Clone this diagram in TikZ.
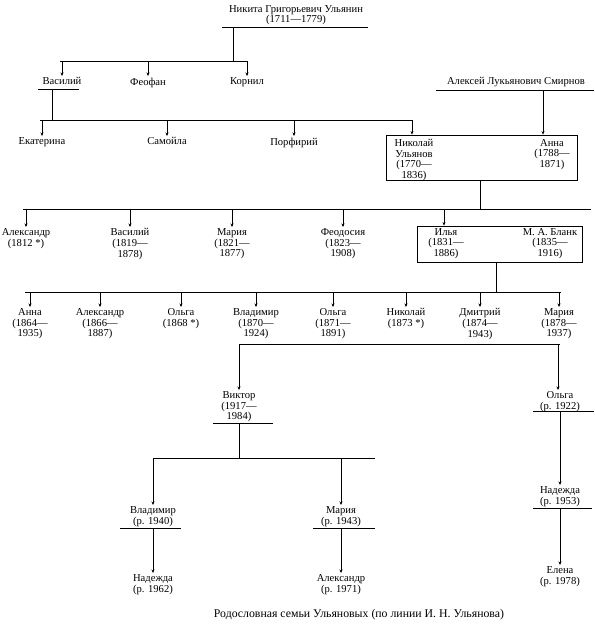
\documentclass[tikz,border=0pt]{standalone}
\usepackage{fontspec}
\setmainfont{Liberation Serif}
\usetikzlibrary{arrows.meta}
\begin{document}
\begin{tikzpicture}[x=1pt,y=-1pt,
  person/.style={align=center,inner sep=0pt,font=\fontsize{10.6}{10.6}\selectfont},
  personT/.style={person,anchor=north,yshift=-2.5pt},
  inbox/.style={person,anchor=north,yshift=-1pt},
  bar/.style={line width=0.95pt},
  vline/.style={line width=0.75pt},
  arr/.style={line width=0.5pt,-{Stealth[length=3.5pt,width=3pt]},shorten >=1.5pt},
  famox/.style={draw,line width=0.75pt,inner sep=0pt}]
\useasboundingbox (0,0) rectangle (594,642);
% --- generation 0
\node[person] (nik) at (296,15) {Никита Григорьевич Ульянин\\(1711—1779)};
\coordinate (nikL) at (222,27); \coordinate (nikR) at (368,27);
\draw[bar] (nikL) -- (nikR);
\coordinate (nikS) at (233,27); \coordinate (b1) at (233,61);
\draw[vline] (nikS) -- (b1);
\coordinate (b1L) at (60,61); \coordinate (b1R) at (247,61);
\draw[bar] (b1L) -- (b1R);
% --- generation 1
\node[personT] (vas) at (62,75) {Василий};
\node[personT] (feo) at (148,75) {Феофан};
\node[personT] (kor) at (247,75) {Корнил};
\foreach \n in {vas,feo,kor} \draw[arr] (\n |- b1) -- (\n.north);
\coordinate (vasL) at (38,89); \coordinate (vasR) at (79,89);
\draw[bar] (vasL) -- (vasR);
\coordinate (vasS) at (52,89); \coordinate (b2) at (52,120);
\draw[vline] (vasS) -- (b2);
\coordinate (b2L) at (40,120); \coordinate (b2R) at (413,120);
\draw[bar] (b2L) -- (b2R);
\node[person] (smi) at (516,82) {Алексей Лукьянович Смирнов};
\coordinate (smiL) at (436,90); \coordinate (smiR) at (594,90);
\draw[bar] (smiL) -- (smiR);
% --- generation 2
\node[personT] (eka) at (42,135) {Екатерина};
\node[personT] (sam) at (167,135) {Самойла};
\node[personT] (por) at (294,135) {Порфирий};
\foreach \n in {eka,sam,por} \draw[arr] (\n |- b2) -- (\n.north);
\node[famox,minimum width=191pt,minimum height=45pt] (box1) at (481.5,157.5) {};
\node[inbox] (nikol) at (414,138) {Николай\\Ульянов\\(1770—\\1836)};
\node[inbox] (anna) at (552,138) {Анна\\(1788—\\1871)};
\coordinate (b2n) at (412,120);
\draw[arr,shorten >=0pt] (b2n) -- (b2n |- box1.north);
\coordinate (smiS) at (543,90);
\draw[arr,line width=0.75pt,shorten >=0pt] (smiS) -- (smiS |- box1.north);
\coordinate (box1S) at (480,180); \coordinate (b3) at (480,209);
\draw[vline] (box1S) -- (b3);
\coordinate (b3L) at (23,209); \coordinate (b3R) at (591,209);
\draw[bar] (b3L) -- (b3R);
% --- generation 3
\node[personT] (alex1) at (26,226) {Александр\\(1812 *)};
\node[personT] (vas2) at (130,226) {Василий\\(1819—\\1878)};
\node[personT] (mar1) at (232,226) {Мария\\(1821—\\1877)};
\node[personT] (feod) at (343,226) {Феодосия\\(1823—\\1908)};
\foreach \n in {alex1,vas2,mar1,feod} \draw[arr] (\n |- b3) -- (\n.north);
\node[famox,minimum width=165pt,minimum height=36pt] (box2) at (499.5,244) {};
\node[inbox] (ilya) at (446,227) {Илья\\(1831—\\1886)};
\node[inbox] (blank) at (550,227) {М. А. Бланк\\(1835—\\1916)};
\coordinate (b3n) at (444,209);
\draw[arr,shorten >=0pt] (b3n) -- (b3n |- box2.north);
\coordinate (box2S) at (496,262); \coordinate (b4) at (496,292);
\draw[vline] (box2S) -- (b4);
\coordinate (b4L) at (25,292); \coordinate (b4R) at (561,292);
\draw[bar] (b4L) -- (b4R);
% --- generation 4
\node[personT] (anna2) at (30,306) {Анна\\(1864—\\1935)};
\node[personT] (alex2) at (100,306) {Александр\\(1866—\\1887)};
\node[personT] (olga1) at (181,306) {Ольга\\(1868 *)};
\node[personT] (vlad) at (256,306) {Владимир\\(1870—\\1924)};
\node[personT] (olga2) at (333,306) {Ольга\\(1871—\\1891)};
\node[personT] (nikol2) at (406,306) {Николай\\(1873 *)};
\node[personT] (dmit) at (480,306) {Дмитрий\\(1874—\\1943)};
\node[personT] (mar2) at (559,306) {Мария\\(1878—\\1937)};
\foreach \n in {anna2,alex2,olga1,vlad,olga2,nikol2,dmit,mar2} \draw[arr] (\n |- b4) -- (\n.north);
\coordinate (b5L) at (239,344); \coordinate (b5R) at (560,344);
\draw[bar] (b5L) -- (b5R);
% --- generation 5
\node[personT] (vik) at (239,389) {Виктор\\(1917—\\1984)};
\node[personT] (olga3) at (560,389) {Ольга\\(р. 1922)};
\draw[arr,line width=0.75pt] (b5L) -- (vik.north);
\coordinate (b5r) at (558,344);
\draw[arr,line width=0.75pt] (b5r) -- (b5r |- olga3.north);
\coordinate (vikL) at (213,423); \coordinate (vikR) at (273,423);
\draw[bar] (vikL) -- (vikR);
\coordinate (vikS) at (239,423); \coordinate (b6) at (239,458);
\draw[vline] (vikS) -- (b6);
\coordinate (b6L) at (153,458); \coordinate (b6R) at (375,458);
\draw[bar] (b6L) -- (b6R);
\coordinate (o3L) at (533,411); \coordinate (o3R) at (594,411);
\draw[bar] (o3L) -- (o3R);
% --- generation 6
\node[personT] (vlad2) at (153,504) {Владимир\\(р. 1940)};
\node[personT] (mar3) at (341,504) {Мария\\(р. 1943)};
\draw[arr,line width=0.75pt] (b6L) -- (vlad2.north);
\coordinate (b6m) at (341,458);
\draw[arr,line width=0.75pt] (b6m) -- (mar3.north);
\coordinate (v2L) at (120,528); \coordinate (v2R) at (181,528);
\draw[bar] (v2L) -- (v2R);
\coordinate (m3L) at (313,528); \coordinate (m3R) at (375,528);
\draw[bar] (m3L) -- (m3R);
\node[personT] (nad2) at (560,484) {Надежда\\(р. 1953)};
\coordinate (o3S) at (560,411);
\draw[arr,line width=0.75pt] (o3S) -- (nad2.north);
\coordinate (n2L) at (533,508); \coordinate (n2R) at (592,508);
\draw[bar] (n2L) -- (n2R);
% --- generation 7
\node[personT] (nad1) at (153,572) {Надежда\\(р. 1962)};
\node[personT] (alex3) at (341,572) {Александр\\(р. 1971)};
\node[personT] (ele) at (560,564) {Елена\\(р. 1978)};
\coordinate (v2S) at (153,528); \coordinate (m3S) at (341,528); \coordinate (n2S) at (560,508);
\draw[arr,line width=0.75pt] (v2S) -- (nad1.north);
\draw[arr,line width=0.75pt] (m3S) -- (alex3.north);
\draw[arr,line width=0.75pt] (n2S) -- (ele.north);
% --- caption
\node[person,font=\fontsize{11.8}{12}\selectfont] (cap) at (359,615) {Родословная семьи Ульяновых (по линии И. Н. Ульянова)};
\end{tikzpicture}
\end{document}
